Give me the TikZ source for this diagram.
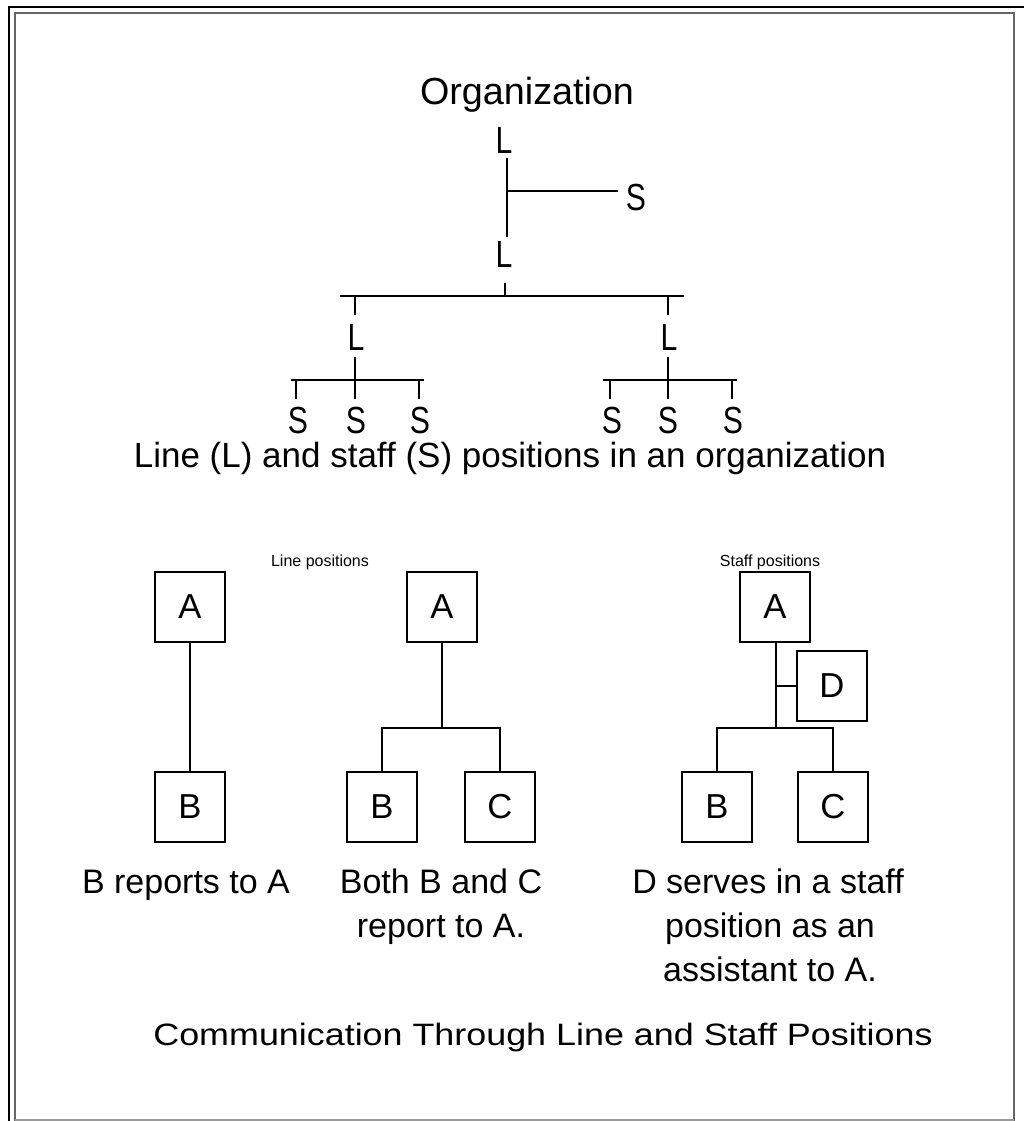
\documentclass[tikz,border=0pt]{standalone}
\usepackage{fontspec}
\setmainfont{Liberation Sans}
\newfontfamily\narrowfont[FakeStretch=0.8]{Liberation Sans}
\newfontfamily\widefont[FakeStretch=1.16]{Liberation Sans}
\begin{document}
\begin{tikzpicture}[x=0.75pt,y=-0.75pt,
  conn/.style={line width=1.5pt},
  orgtxt/.style={inner sep=0pt, anchor=base, font=\fontsize{28.3}{34}\selectfont},
  lab/.style={inner sep=0pt, anchor=base, font=\narrowfont\fontsize{28.3}{34}\selectfont},
  captxt/.style={inner sep=0pt, anchor=base, font=\fontsize{26.25}{31}\selectfont},
  smalltxt/.style={inner sep=0pt, anchor=base, font=\fontsize{12}{14}\selectfont},
  box/.style={draw, line width=1.5pt, minimum width=52.5pt, minimum height=52.5pt, inner sep=0pt, font=\fontsize{26}{31}\selectfont},
  txt/.style={inner sep=0pt, anchor=base, font=\fontsize{25.5}{30}\selectfont},
  titletxt/.style={inner sep=0pt, anchor=base, font=\widefont\fontsize{23.2}{28}\selectfont}]
\useasboundingbox (0,0) rectangle (1024,1121);
% frame
\draw[line width=2.2pt, black] (8,7) -- (1024,7);
\draw[line width=2.2pt, black] (9,7) -- (9,1121);
\draw[line width=1.6pt, black!60] (15,1121) -- (15,13) -- (1014,13) -- (1014,1121);
\draw[line width=1.6pt, black!40] (15,1120) -- (1014,1120);

% ---------- organization tree ----------
\node[orgtxt] (org) at (527,104) {Organization};
\node[lab] (L1) at (504,153) {L};
\node[lab] (S1) at (636,210) {S};
\node[lab] (L2) at (504,267) {L};
\coordinate (t1) at (507,158);
\coordinate (t2) at (507,237);
\coordinate (jS) at (507,191);
\coordinate (sE) at (618,191);
\draw[conn] (t1) -- (t2);
\draw[conn] (jS) -- (sE);
\coordinate (t3) at (505,283);
\coordinate (t4) at (505,296);
\draw[conn] (t3) -- (t4);
\coordinate (barL) at (340,296);
\coordinate (barR) at (684,296);
\draw[conn] (barL) -- (barR);
\node[lab] (La) at (356,350) {L};
\node[lab] (Lb) at (669,350) {L};
\draw[conn] (355,296) coordinate (da) -- (355,315) coordinate (ea);
\draw[conn] (668,296) coordinate (db) -- (668,315) coordinate (eb);
% left group
\coordinate (ga1) at (355,357);
\coordinate (ga2) at (355,399);
\draw[conn] (ga1) -- (ga2);
\coordinate (gaL) at (291,380);
\coordinate (gaR) at (424,380);
\draw[conn] (gaL) -- (gaR);
\draw[conn] (296,380) -- (296,399);
\draw[conn] (419,380) -- (419,399);
\node[lab] (Sa1) at (298,433) {S};
\node[lab] (Sa2) at (356,433) {S};
\node[lab] (Sa3) at (420,433) {S};
% right group
\coordinate (gb1) at (668,357);
\coordinate (gb2) at (668,399);
\draw[conn] (gb1) -- (gb2);
\coordinate (gbL) at (603,380);
\coordinate (gbR) at (737,380);
\draw[conn] (gbL) -- (gbR);
\draw[conn] (610,380) -- (610,399);
\draw[conn] (732,380) -- (732,399);
\node[lab] (Sb1) at (612,433) {S};
\node[lab] (Sb2) at (668,433) {S};
\node[lab] (Sb3) at (733,433) {S};

\node[captxt] (cap1) at (510,467) {Line (L) and staff (S) positions in an organization};

% ---------- small headings ----------
\node[smalltxt] (hl) at (320,566) {Line positions};
\node[smalltxt] (hs) at (770,566) {Staff positions};

% ---------- left: B reports to A ----------
\node[box] (A1) at (190,607) {A};
\node[box] (B1) at (190,807) {B};
\draw[conn] (A1.south) -- (B1.north);

% ---------- middle ----------
\node[box] (A2) at (442,607) {A};
\node[box] (B2) at (382,807) {B};
\node[box] (C2) at (500,807) {C};
\coordinate (m2) at (442,728);
\draw[conn] (A2.south) -- (m2);
\draw[conn] (B2.north) -- (B2.north |- m2) -- (C2.north |- m2) -- (C2.north);

% ---------- right ----------
\node[box] (A3) at (775,607) {A};
\node[box] (D3) at (832,686) {D};
\node[box] (B3) at (717,807) {B};
\node[box] (C3) at (833,807) {C};
\coordinate (m3) at (776,728);
\draw[conn] (A3.south -| m3) -- (m3);
\draw[conn] (m3 |- D3.west) -- (D3.west);
\draw[conn] (B3.north) -- (B3.north |- m3) -- (C3.north |- m3) -- (C3.north);

% ---------- descriptions ----------
\node[txt] (d1) at (186,893) {B reports to A};
\node[txt] (d2a) at (441,893) {Both B and C};
\node[txt] (d2b) at (441,937) {report to A.};
\node[txt] (d3a) at (768,893) {D serves in a staff};
\node[txt] (d3b) at (770,937) {position as an};
\node[txt] (d3c) at (770,981) {assistant to A.};

\node[titletxt] (ttl) at (543,1045) {Communication Through Line and Staff Positions};
\end{tikzpicture}
\end{document}
